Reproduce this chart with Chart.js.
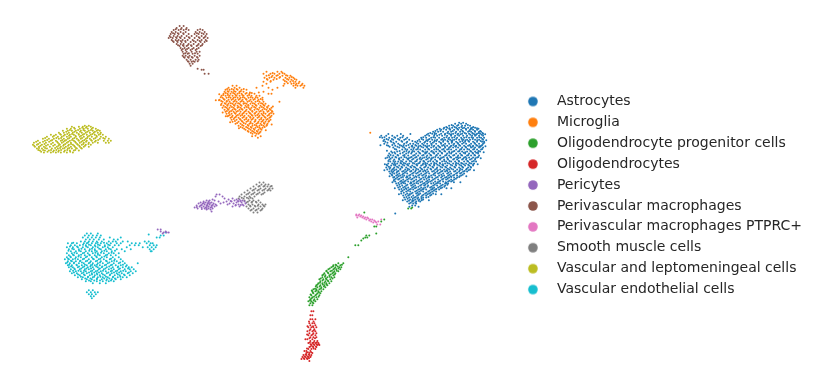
<!DOCTYPE html>
<html><head><meta charset="utf-8">
<script src="https://cdn.jsdelivr.net/npm/chart.js@4"></script>
<style>html,body{margin:0;padding:0;background:#fff}#w{width:817px;height:389px;position:relative}</style>
</head><body><div id="w"><canvas id="c"></canvas></div>
<script>
// Each row: [y, x, x, x ...], umap positions
const categories = ["Astrocytes","Microglia","Oligodendrocyte progenitor cells","Oligodendrocytes","Pericytes","Perivascular macrophages","Perivascular macrophages PTPRC+","Smooth muscle cells","Vascular and leptomeningeal cells","Vascular endothelial cells"];
const colors = ["#1f77b4","#ff7f0e","#2ca02c","#d62728","#9467bd","#8c564b","#e377c2","#7f7f7f","#bcbd22","#17becf"];
const astrocytes = [
[123,459,463],[124,455,461,466],[126,449,453,457,462,465,470],[128,444,447,452,456,459,464,468,472,475],
[130,437,441,446,450,454,458,461,466,470,473,477],[132,433,438,443,448,451,456,460,463,468,471,475,479,481],
[134,428,432,436,441,445,449,453,458,462,466,469,473,477,480,483],
[136,381,386,392,397,403,425,429,434,437,442,447,451,455,459,463,467,472,475,479,483],
[138,382,389,395,400,407,421,426,431,435,439,444,449,452,457,461,464,469,473,477,481,484],
[140,384,388,393,399,404,409,419,423,428,432,437,441,445,450,454,459,463,467,470,475,479,483],
[142,385,391,396,402,407,415,420,425,430,434,439,443,448,452,456,460,465,469,473,477,482,484],
[144,384,394,398,404,410,413,418,422,427,431,436,441,445,449,454,458,462,466,471,475,479,483],
[146,388,395,401,406,412,416,420,425,429,434,438,442,447,451,456,460,464,468,473,477,481],
[148,393,399,404,409,414,418,423,427,431,436,440,445,449,453,458,462,466,471,475,479,483],
[150,396,402,407,411,416,420,425,429,434,438,442,447,451,456,460,464,469,473,477,481],
[152,391,397,404,409,414,418,423,427,431,436,440,445,449,453,458,462,467,471,475,480],
[154,389,395,400,406,411,416,420,425,429,434,438,442,447,451,456,460,465,469,473,478],
[156,388,393,398,403,408,413,418,422,427,431,436,440,445,449,453,458,462,467,471,475,479],
[158,387,392,396,401,406,410,415,420,424,429,433,438,442,447,451,456,460,464,469,473,477],
[160,389,394,399,403,408,412,417,421,426,431,435,440,444,448,453,457,462,466,470,475],
[162,390,395,398,402,406,411,415,420,424,428,433,437,442,446,451,455,459,464,468,472,476],
[164,388,392,397,401,405,409,414,418,423,427,431,436,440,445,449,453,458,462,466,471,474],
[166,387,391,395,399,404,408,412,417,421,426,430,434,439,443,447,452,456,461,465,469,473],
[168,386,390,394,398,402,406,411,415,420,424,428,433,437,442,446,450,455,459,463,468,471],
[170,387,392,396,400,405,409,413,418,422,427,431,435,440,444,449,453,457,462,466,470],
[172,389,393,397,402,406,410,415,419,423,428,432,437,441,445,450,454,459,463,467],
[174,390,394,399,403,407,412,416,421,425,429,434,438,443,447,451,456,460,464],
[176,392,396,400,404,409,413,418,422,426,431,435,439,444,448,453,457,461],
[178,393,397,401,406,410,414,419,423,428,432,436,441,445,449,454,457],
[180,394,398,403,407,411,416,420,424,429,433,438,442,446,451,454],
[182,395,400,404,408,413,417,422,426,430,435,439,443,448,451],
[184,396,401,405,410,414,418,423,427,431,436,440,445,448],
[186,397,402,406,411,415,420,424,428,433,437,441,445],
[188,398,403,408,412,416,421,425,430,434,438,442],
[190,399,404,409,413,418,422,426,431,435,439],
[192,401,406,410,415,419,423,428,432,436],
[194,401,407,411,416,420,425,429,433],
[196,403,408,413,417,422,426,430],
[198,404,409,414,418,423,426],
[200,405,410,415,419,423],[202,407,412,416,420],[204,409,413,416],[206,412,415],
[214,395],
[125.3,451.5,458.2,467.8],[127.4,446.1,454.6,461.3,473.2],[129.2,439.6,443.4,449.2,457.1,465.8,471.3,478.4],[131.4,435.2,440.3,452.7,462.4,469.1,474.8,480.2],
[133.3,430.1,434.6,447.2,455.4,464.7,472.2,478.6,482.4],[135.2,426.7,439.2,444.7,450.6,457.3,470.2,476.1,481.6],[137.5,379.6,384.2,394.1,402.2,423.1,433.2,446.3,454.2,466.2,471.4,479.3],
[139.3,386.3,391.7,397.8,405.6,421.6,429.3,442.1,448.2,456.1,461.8,472.6,482.2],[141.4,383.1,390.4,401.2,412.2,417.4,427.2,436.1,447.3,451.4,462.2,468.3,480.6],
[143.2,387.2,393.1,406.2,416.4,424.1,432.7,440.6,451.6,457.4,463.6,474.3,484.2],[145.4,392.1,399.6,408.2,415.1,423.4,431.6,443.4,453.2,459.1,469.4,476.2,482.1],
[147.2,397.2,402.6,412.1,421.3,426.4,433.2,439.1,450.3,455.7,465.4,472.8,480.4],[149.3,394.6,405.1,413.2,417.6,428.1,436.2,443.6,448.6,461.2,467.3,474.1,482.2],
[151.4,399.4,406.2,412.6,422.2,431.8,439.3,444.2,454.2,459.3,470.2,478.6],[153.2,392.1,402.6,408.2,419.1,426.3,433.1,441.6,449.2,463.6,472.4,476.1],
[155.4,390.4,397.2,404.4,414.6,423.4,430.3,436.7,446.3,454.2,461.1,468.2,474.3],[157.3,389.1,395.2,404.2,411.4,416.3,426.2,435.1,443.6,450.2,457.6,465.4,478.2],
[159.2,390.4,398.6,407.2,413.3,419.4,427.6,431.2,439.8,447.4,454.1,463.1,471.6],[161.3,388.1,393.2,400.7,409.6,416.4,423.2,430.1,436.4,444.1,449.4,458.6,467.2,473.8],
[163.4,394.1,400.2,403.6,412.7,419.3,425.1,434.2,439.6,447.3,456.1,461.1,469.4],[165.2,386.4,393.6,402.6,407.2,416.4,422.6,429.1,437.2,442.2,450.6,459.4,468.1],
[167.3,388.6,396.8,401.3,410.2,413.8,425.2,432.2,440.4,445.1,454.2,462.1,470.4],[169.2,389.4,393.2,400.2,407.6,416.4,421.1,430.3,436.4,447.6,451.3,460.2,466.8],
[171.4,391.1,398.3,403.6,411.2,420.2,425.4,433.8,442.3,447.1,455.4,464.6],[173.2,392.1,396.4,404.7,413.4,417.6,426.4,435.3,439.6,448.4,457.2,461.4],
[175.3,391.6,397.4,402.1,410.3,419.4,423.6,433.1,441.2,449.4,454.2,462.6],[177.4,394.1,402.7,407.2,416.3,425.1,429.4,437.6,446.6,451.2,459.1],
[179.2,395.6,399.3,408.6,412.4,421.2,426.3,434.7,443.2,447.6,455.8],[181.3,393.6,401.2,405.4,414.2,418.6,427.4,431.7,440.1,449.2,452.6],
[183.4,398.2,403.4,411.2,416.1,424.6,433.3,437.8,446.4],[185.2,399.1,407.2,412.6,421.3,425.2,434.6,442.6,447.2],
[187.3,399.8,404.6,413.4,418.2,427.3,431.4,439.7,444.2],[189.4,401.2,406.3,410.6,419.7,423.4,432.6,436.2],[191.2,402.4,407.8,416.6,420.8,429.4,433.8],
[193.3,403.6,412.4,417.3,426.2,430.4],[195.2,405.4,409.6,418.6,423.4,431.2],[197.4,406.2,411.4,415.6,421.1,428.3],[199.2,407.4,412.6,417.2,421.3],[201.3,408.8,413.4,418.4],[203.3,410.6,415.2],
[128.7,449.4,462.6,470.8,476.9],[134.7,434.4,451.2,460.4,474.6,485.1],[140.7,426.2,434.6,443.2,452.3,465.2,477.1,486.2],[146.7,411.4,418.3,427.2,444.6,455.1,470.4,479.1,485.4],[152.7,394.2,411.7,425.1,433.4,451.6,465.2,477.9,483.6],
[158.7,385.3,399.1,408.6,422.2,431.6,440.7,458.3,466.4,475.3,480.7],[164.7,384.6,395.2,407.1,416.2,425.2,433.9,442.7,455.6,463.8,473.1,477.6],[170.7,384.1,394.2,407.3,415.6,424.3,437.7,446.3,459.7,468.6,473.9],
[176.7,389.3,398.4,406.7,415.4,428.7,442.1,450.7,459.6,466.2],[182.7,392.2,402.1,410.7,420.3,428.1,437.4,445.6,453.8,460.3],[188.7,394.6,405.6,414.8,423.2,432.4,440.7,446.4,451.2],[194.7,398.7,409.2,418.3,427.4,435.6,441.2],[200.7,402.6,412.2,421.6,428.7],[207.3,409.2,418.4],[134.4,388.1,400.6,410.2],[145.7,380.2,386.6,403.3],[151.1,386.7],[147.2,389.4]
];
const microglia = [
[133,370],[72,266,277,281],[74,263,270,274,279,284],[76,266,272,276,282,287,290],[78,264,269,274,279,285,289,293],
[80,267,273,283,288,291,296],[82,263,270,286,290,295,299],[84,266,284,291,296,302],[86,232,236,262,283,293,297,300,304],[88,228,234,239,256,268,277,295,303],
[90,225,229,233,237,241,246,272],[92,224,228,231,235,239,243,263],[94,223,227,230,234,237,241,245,249,254,268,271],
[96,221,225,229,232,236,239,243,247,251,256,259],[98,222,226,230,233,237,240,244,248,252,257,262],
[100,219,224,228,231,235,238,242,246,250,253,258,262],[102,222,226,229,233,236,240,243,247,251,255,259,263,279],
[104,221,225,228,232,235,239,243,246,250,254,258,262,265],[106,223,227,230,234,237,241,245,248,252,256,260,264,268],
[108,222,226,229,233,237,240,244,248,251,255,259,263,267,271],[110,224,228,232,235,239,242,246,250,254,258,262,266,270],
[112,225,229,233,236,240,244,248,252,256,259,263,267,272],[114,226,231,235,239,242,246,250,254,258,261,265,269,273],
[116,228,232,236,240,244,248,252,255,259,263,267,271],[118,230,234,238,242,246,250,253,257,261,265,269],
[120,231,236,240,244,248,251,255,259,263,266,270],[122,232,238,242,246,250,254,258,261,265,268],
[124,235,240,245,249,252,256,260,264,267],[126,238,243,248,252,256,259,263,266],[128,242,247,251,255,259,262],
[130,245,250,254,258,261],[132,248,253,257,260],[134,252,256,258],[136,255],
[89.3,226.6,231.2,236.1,243.2],[91.4,227.1,233.6,240.2],[93.3,225.2,232.6,238.7,246.1,251.3],[95.2,222.7,227.4,235.1,241.8,248.6],[97.4,220.2,228.1,234.6,242.3,250.1,255.2],
[99.3,223.1,232.4,239.2,245.4,254.3,260.2],[101.2,220.6,226.4,234.1,241.2,248.6,257.1],[103.4,224.2,230.3,237.6,244.4,252.4,260.6],[105.3,220.4,226.7,233.4,240.1,247.6,255.2,263.1],
[107.2,224.6,231.4,238.2,246.3,253.6,261.4,266.6],[109.4,227.2,234.1,241.2,249.4,256.6,264.3,269.3],[111.3,226.4,230.6,237.4,245.2,251.6,260.4,268.1,271.4],
[113.2,228.4,234.2,243.1,249.2,254.7,263.2,270.6],[115.4,229.2,237.4,241.6,251.2,256.8,262.1,268.4],[117.3,231.4,235.2,243.2,249.6,258.3,264.2,270.1],
[119.2,233.2,239.4,245.6,252.1,260.6,267.3],[121.3,234.4,241.2,247.4,254.8,262.2,268.6],[123.4,236.6,243.2,250.2,257.4,263.4],[125.2,241.6,247.2,254.3,261.2,266.4],
[127.3,240.1,245.6,250.3,257.2,264.2],[129.2,243.6,248.4,253.2,260.1],[131.3,247.2,251.6,256.3],[133.2,250.3,254.4,259.1],
[73.3,272.2,282.1],[75.4,268.4,277.3,285.6],[77.2,271.1,279.6,291.4],[79.3,266.4,276.2,286.6,294.2],[81.2,270.3,284.4,292.6],[83.4,287.4,293.3,298.2],[85.3,295.2,301.4],
[100.6,215.2,218.4],[112.7,222.1],[116.6,225.2,226.8],[122.6,229.6],[128.7,238.4],[136.7,251.6,260.2],[138.2,257.4],[124.7,271.2],[130.7,265.3],[92.7,249.4,258.3],[106.7,272.4],[94.6,218.7]
];
const opc = [
[264,343,338],[266,336,340,333],[268,331,335,339,341],[270,328,333,336,340],[272,326,330,334,338],[274,324,328,332,335],[276,325,329,333,322],[278,322,327,331,334],[280,323,326,330,319],
[282,320,325,328,331],[284,318,322,326,329],[286,320,324,327,316],[288,317,321,325],[290,316,319,323,313],[292,315,318,321,312],[294,313,317,320],[296,311,315,319],[298,312,316,309],[300,310,314,317],[302,311,315,308],[304,310,313],[306,309,312],
[265.4,335.2,341.6],[267.3,332.6,337.4],[269.2,329.4,334.2,338.1],[271.4,326.2,331.6,336.4],[273.3,327.4,333.2],[275.2,323.1,330.4,334.4],[277.4,324.6,329.2],[279.3,320.4,325.6,332.2],
[281.2,322.2,327.3],[283.4,319.6,324.2],[285.3,317.2,322.4,326.1],[287.2,315.4,319.3,323.6],[289.4,314.6,320.6],[291.3,316.2,311.4],[293.2,312.4,318.6],[295.3,310.2,316.1],[297.4,313.6,318.2],[299.2,311.2],[301.3,309.6,313.4],[303.2,312.1],
[236,369,366],[238,365,367],[239,363],[241,361],[246,355,358],[258,348],[209,408,411],[208,412],[213,364],[222,381],[227,376,374],[234,376],[220,384]
];
const oligo = [
[312,311,313],[316,310,312],[320,310,312,315],[324,309,312,314],[326,310,315],[328,308,311,313,316],[330,310,314],[332,307,312,315],[334,309,313,316],
[336,308,311,315],[338,310,313,316],[340,307,312,305],[342,310,314,317],[344,312,315,318,308],[346,311,314,317,319],[348,309,313,316],[350,308,311,315],[352,306,310,304],
[354,309,312,306],[356,303,306,309,311],[358,302,305,308,310],[360,304,307,301],[362,309],
[322.4,308.6,313.2],[327.2,312.6,307.1],[331.3,309.2,313.4],[335.4,306.7,312.3],[339.2,309.1,314.6],[343.3,309.4,313.2,316.4],[345.2,310.2,313.1,316.2,318.4],[347.3,312.2,315.6,310.1],[349.4,306.6,313.2],[353.2,307.4,310.8],[355.4,305.2,308.4],[357.3,304.1,307.2,310.1],[359.2,303.2,306.4,308.6]
];
const pericytes = [
[195,219,216],[197,222,215],[199,224,232],[200,212,228,236,239],[201,206,209,214,234,242],[202,203,208,218,226,231,238,244],[203,200,205,211,223,236,241],
[204,198,202,207,213,220,229,233,245],[205,204,209,215,227,238,242],[206,196,200,206,211,216,235,243],[207,199,203,208,214,232,239],[208,194,201,205,210],
[209,197,204,208,212],[210,206,210],[212,211],[230,157,160],[233,163,166,168],[232,160,165],[234,162],
[203.6,203.2,207.6,209.4],[205.6,201.2,206.8,212.2,235.2,240.2],[207.6,206.2,211.2,196.2],[201.6,230.1,237.4,240.1],[209.6,201.2,206.1]
];
const pvm = [
[26,179,183],[28,176,181,186],[30,173,178,183,188,197,202],[32,171,175,180,185,195,199,204],[34,170,174,178,183,188,194,198,203,206],
[36,169,173,177,181,186,191,196,201,205],[38,168,172,176,180,184,189,194,199,203,207],[40,171,175,178,182,187,192,197,201,205],
[42,173,177,181,185,190,195,200,204],[44,176,180,183,188,193,198,202],[46,179,183,186,191,196,200],[48,180,184,188,193,198],
[50,181,185,190,195],[52,182,186,191,196,199],[54,183,187,192,197],[56,182,185,189,194,199],[58,184,188,192,197],[60,186,190,195,198],
[62,188,191,194],[64,189,192],[66,190],[70,201,203],[74,208,204],[69,197],
[29.2,175.1,180.2,185.4,199.6],[33.3,172.4,177.2,182.6,196.4,201.2],[37.4,170.1,175.4,179.2,188.2,198.2,204.1],[41.2,172.1,176.4,180.2,184.6,193.2,199.1,206.1],[45.3,177.4,182.2,187.1,190.4,197.1,201.4],
[49.2,182.1,186.4,191.6,196.2],[53.3,184.6,188.2,194.4],[57.2,183.1,187.3,191.2,196.4],[61.3,187.2,192.6,197.1]
];
const ptprc = [
[215,356,359],[216,358,361,356],[217,360,363],[218,357,362,365,367],[219,364,368],[220,366,370,372,381],[221,369,374],[222,371,375,378],[223,373,376],[225,377,380]
];
const smooth = [
[183,259,263],[185,256,261,265,268],[187,253,258,263,267,270],[189,250,255,260,265,269,272],[191,247,252,257,262,267,270],[193,244,249,254,259,264],
[195,241,246,251,256,261],[197,239,244,249,254],[199,238,243,248,252],[201,244,249,253,258],[203,246,251,256,260],[205,248,252,258,262,265],
[207,246,250,255,260,264],[209,248,253,258,262],[211,250,255,260],[213,253,257],
[186.4,259.2,264.1,271.2],[190.2,253.4,258.4,263.6,268.2],[194.3,247.6,252.6,257.4,262.6],[198.2,241.2,246.4,250.1],[202.3,247.4,251.6,255.4],[206.4,249.6,254.2,257.4,263.2],[210.2,251.2,256.2,261.2]
];
const vlmc = [
[126,84,88],[127,71,78,82,86,90],[129,66,70,74,79,83,87,91,95],[131,62,67,71,75,80,84,88,92,96,99],[133,58,63,68,72,76,81,85,89,93,97,100],
[135,50,55,60,64,69,73,78,82,86,90,94,98,102],[137,46,52,57,61,66,70,75,79,83,87,91,96,100,105],[139,42,48,53,58,63,67,72,76,80,85,89,93,99,104,108],
[141,37,44,50,55,60,64,69,73,78,82,86,91,95,103,107,110],[143,33,39,45,52,57,61,66,70,75,79,83,88,92,97,105,108],[145,32,36,41,47,54,59,63,68,72,77,81,85,90],
[147,34,38,43,49,56,60,65,70,74,79,83,88],[149,36,41,46,51,57,62,67,71,76,81],[151,39,44,48,53,58,64,69,73,78],[153,43,50,55,60,66,72],
[128.2,73.2,81.4,85.2,92.1],[130.4,69.1,77.2,82.6,90.1,97.2],[132.2,65.4,73.6,79.2,86.4,94.1],[134.3,59.2,66.4,71.2,77.8,83.2,91.6,99.4],[136.2,53.1,62.8,68.2,74.6,80.2,88.4,95.6],
[138.4,44.2,55.4,60.2,68.4,73.6,81.2,86.3,94.6,102.4],[140.3,46.2,51.2,61.4,65.2,71.2,77.4,83.6,90.2,97.3],[142.2,35.2,42.1,48.2,56.2,62.6,67.3,74.2,80.6,85.2,94.1],[144.4,37.2,43.6,50.2,58.1,64.4,70.2,76.2,82.4,87.6],
[146.2,33.2,39.6,45.1,52.3,57.6,62.4,67.2,73.2,78.4,84.2],[148.4,38.1,44.2,54.2,59.2,63.6,68.4,75.1,80.2],[150.3,37.4,42.2,50.1,55.4,60.2,66.4,74.4],[152.2,40.2,46.6,52.2,57.4,63.2,69.3]
];
const endothelial = [
[234,86,90,97],[236,84,88,92,96,100],[238,82,87,91,95,99,109,120],[240,85,89,93,98,103,113,117],[242,80,84,88,92,96,101,108,112,115,122,127,144,148],
[244,67,71,76,83,86,91,95,100,106,110,116,120,131,135,139,146,150,152],[246,70,74,79,85,90,94,99,104,109,114,118,129,134,138,149,153,156],
[248,66,72,77,82,87,92,97,102,107,112,126,142,147,151,155],[250,68,73,78,84,89,94,100,105,110,116,121,130,149,153],
[252,70,75,80,85,91,96,101,106,111,124,151,150],[254,66,71,76,82,87,92,97,103,108,113,118],[256,68,73,78,84,89,94,99,105,110,115],
[258,66,70,75,80,85,91,96,101,106,112,118],[260,64,68,72,77,82,88,93,98,103,109,114,120],[262,67,71,75,79,85,90,95,100,106,111,116,122],
[264,65,69,73,78,83,88,92,97,102,107,113,118,124,137],[266,67,71,76,81,86,90,94,99,104,110,115,120,126],[268,68,72,77,82,87,92,97,101,106,112,117,122,128,131],
[270,70,74,79,84,88,93,98,103,108,113,118,124,129,133],[272,69,75,80,85,90,95,100,105,110,115,120,125,130,135],[274,71,76,81,86,91,96,101,106,111,116,121,127,132],
[276,74,79,84,89,94,99,104,109,114,119,124,129],[278,77,82,87,92,97,102,107,112,117,122,126],[280,81,86,91,96,101,106,111,115,120],
[282,85,90,96,102,108,113],[284,92,99,105],[291,92,88],[293,86,90,94,97],[295,88,91,95],[297,90,93],[299,91],
[236,160,163],[238,156,159],[233,165],[235,148],
[255.3,72.1,80.2,88.4,97.1,106.4],[257.2,69.4,77.6,86.2,95.4,103.6],[259.4,67.2,74.4,83.2,92.1,99.6,110.2],[261.3,70.1,79.6,86.4,96.3,105.2,113.4],[263.2,66.4,73.2,81.1,89.2,99.2,108.6,119.4],
[265.4,68.3,75.6,84.1,91.4,96.2,105.3,111.2,122.2],[267.2,70.2,78.2,83.4,89.6,95.4,101.6,108.4,117.4,125.1],[269.3,73.4,80.4,85.6,90.2,99.1,104.6,110.4,119.2,127.3],[271.4,72.2,77.6,83.2,91.4,96.6,102.2,111.2,116.4,122.4],
[273.2,73.1,82.6,88.2,93.4,98.2,107.6,113.2,118.4,128.2],[275.3,77.2,83.1,91.2,96.4,102.2,109.4,117.1,123.2],[277.4,80.1,87.2,93.4,99.6,105.2,112.3,119.6],[279.2,84.4,89.6,96.2,103.4,108.6,114.2],[281.3,88.2,93.4,99.2,105.6,110.2],
[243.3,72.4,87.2,96.8,103.2],[245.4,82.2,88.2,97.2,107.4],[247.2,69.1,76.2,85.4,94.6,104.1],[249.3,71.4,80.6,91.2,98.4,108.2],[251.4,67.6,78.2,88.4,94.2,103.6,114.2],[253.3,73.6,83.4,94.6,100.2,110.8]
];
const seriesRows = [astrocytes,microglia,opc,oligo,pericytes,pvm,ptprc,smooth,vlmc,endothelial];
const toPoints = rows => rows.flatMap(r => r.slice(1).map(x => ({x, y:r[0]})));

function legendDot(color){
  const c = document.createElement('canvas'); c.width = 12; c.height = 12;
  const g = c.getContext('2d'); g.fillStyle = color; g.beginPath(); g.arc(6,6,4.8,0,Math.PI*2); g.fill(); return c;
}
const xMax = 509;
new Chart(document.getElementById('c'), {
  type:'scatter',
  data:{datasets:categories.map((label,i)=>({label,data:toPoints(seriesRows[i]),backgroundColor:colors[i],borderWidth:0,pointRadius:1,pointHoverRadius:1}))},
  options:{
    responsive:true,maintainAspectRatio:false,animation:false,
    layout:{padding:{left:0,top:2,bottom:0,right:5}},
    scales:{x:{display:false,min:0,max:xMax},y:{display:false,min:2,max:389,reverse:true}},
    plugins:{tooltip:{enabled:false},legend:{position:'right',labels:{
      usePointStyle:true,pointStyleWidth:34,boxHeight:7,padding:6.9,color:'#262626',
      font:{family:'DejaVu Sans',size:14,lineHeight:1.2},
      generateLabels:ch=>ch.data.datasets.map((d,i)=>({text:d.label,fillStyle:colors[i],strokeStyle:colors[i],lineWidth:0,pointStyle:legendDot(colors[i]),datasetIndex:i,fontColor:'#262626'}))
    }}}
  }
});
</script></body></html>
